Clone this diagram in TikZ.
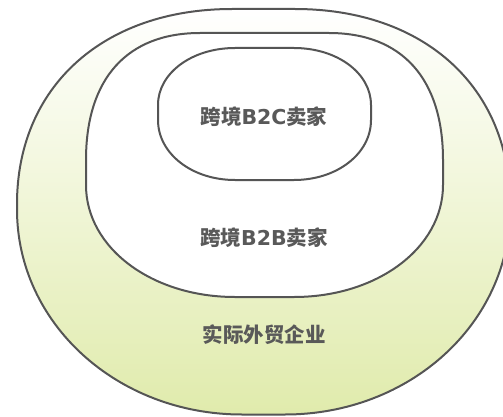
\documentclass[tikz,border=0pt]{standalone}
\usepackage{fontspec}
\newfontfamily\cjk{Noto Sans CJK SC}
\newfontfamily\lat{DejaVu Sans}
\definecolor{edge}{RGB}{85,85,85}
\definecolor{txt}{RGB}{89,89,89}
\definecolor{gbot}{RGB}{224,235,172}
% x1 ybottom x2 ytop rx-top ry-top rx-bottom ry-bottom ; kappas in \kt and \kb
\def\kt{0.56}\def\kb{0.56}
\newcommand\rrpath[8]{({#1+#5},#4) -- ({#3-#5},#4)
  .. controls ({#3-#5+\kt*#5},#4) and (#3,{#4-#6+\kt*#6}) .. (#3,{#4-#6})
  -- (#3,{#2+#8})
  .. controls (#3,{#2+#8-\kb*#8}) and ({#3-#7+\kb*#7},#2) .. ({#3-#7},#2)
  -- ({#1+#7},#2)
  .. controls ({#1+#7-\kb*#7},#2) and (#1,{#2+#8-\kb*#8}) .. (#1,{#2+#8})
  -- (#1,{#4-#6})
  .. controls (#1,{#4-#6+\kt*#6}) and ({#1+#5-\kt*#5},#4) .. ({#1+#5},#4) -- cycle}
\tikzset{
  ring/.style={draw=edge,line width=2pt},
  lbl/.style={text=txt,font=\cjk\bfseries\fontsize{20.5}{24}\selectfont,inner sep=0pt}
}
\begin{document}
\begin{tikzpicture}[x=1pt,y=1pt]
\useasboundingbox (0,0) rectangle (503,416);
\def\kt{0.6}\def\kb{0.555}
\path[ring,top color=white,middle color=white,bottom color=gbot] \rrpath{17}{1.5}{510}{407}{215}{195}{225}{205};
\def\kt{0.64}\def\kb{0.56}
\path[ring,fill=white] \rrpath{86}{119}{443}{383}{114}{127}{149}{112};
\def\kt{0.56}\def\kb{0.56}
\path[ring,fill=white] \rrpath{158}{236}{371}{368}{77}{57}{77}{60};
\node[lbl] (b2c) at (264,299) {跨境{\lat\bfseries B2C}卖家};
\node[lbl] (b2b) at (264,178) {跨境{\lat\bfseries B2B}卖家};
\node[lbl] (trade) at (264,81) {实际外贸企业};
\end{tikzpicture}
\end{document}
